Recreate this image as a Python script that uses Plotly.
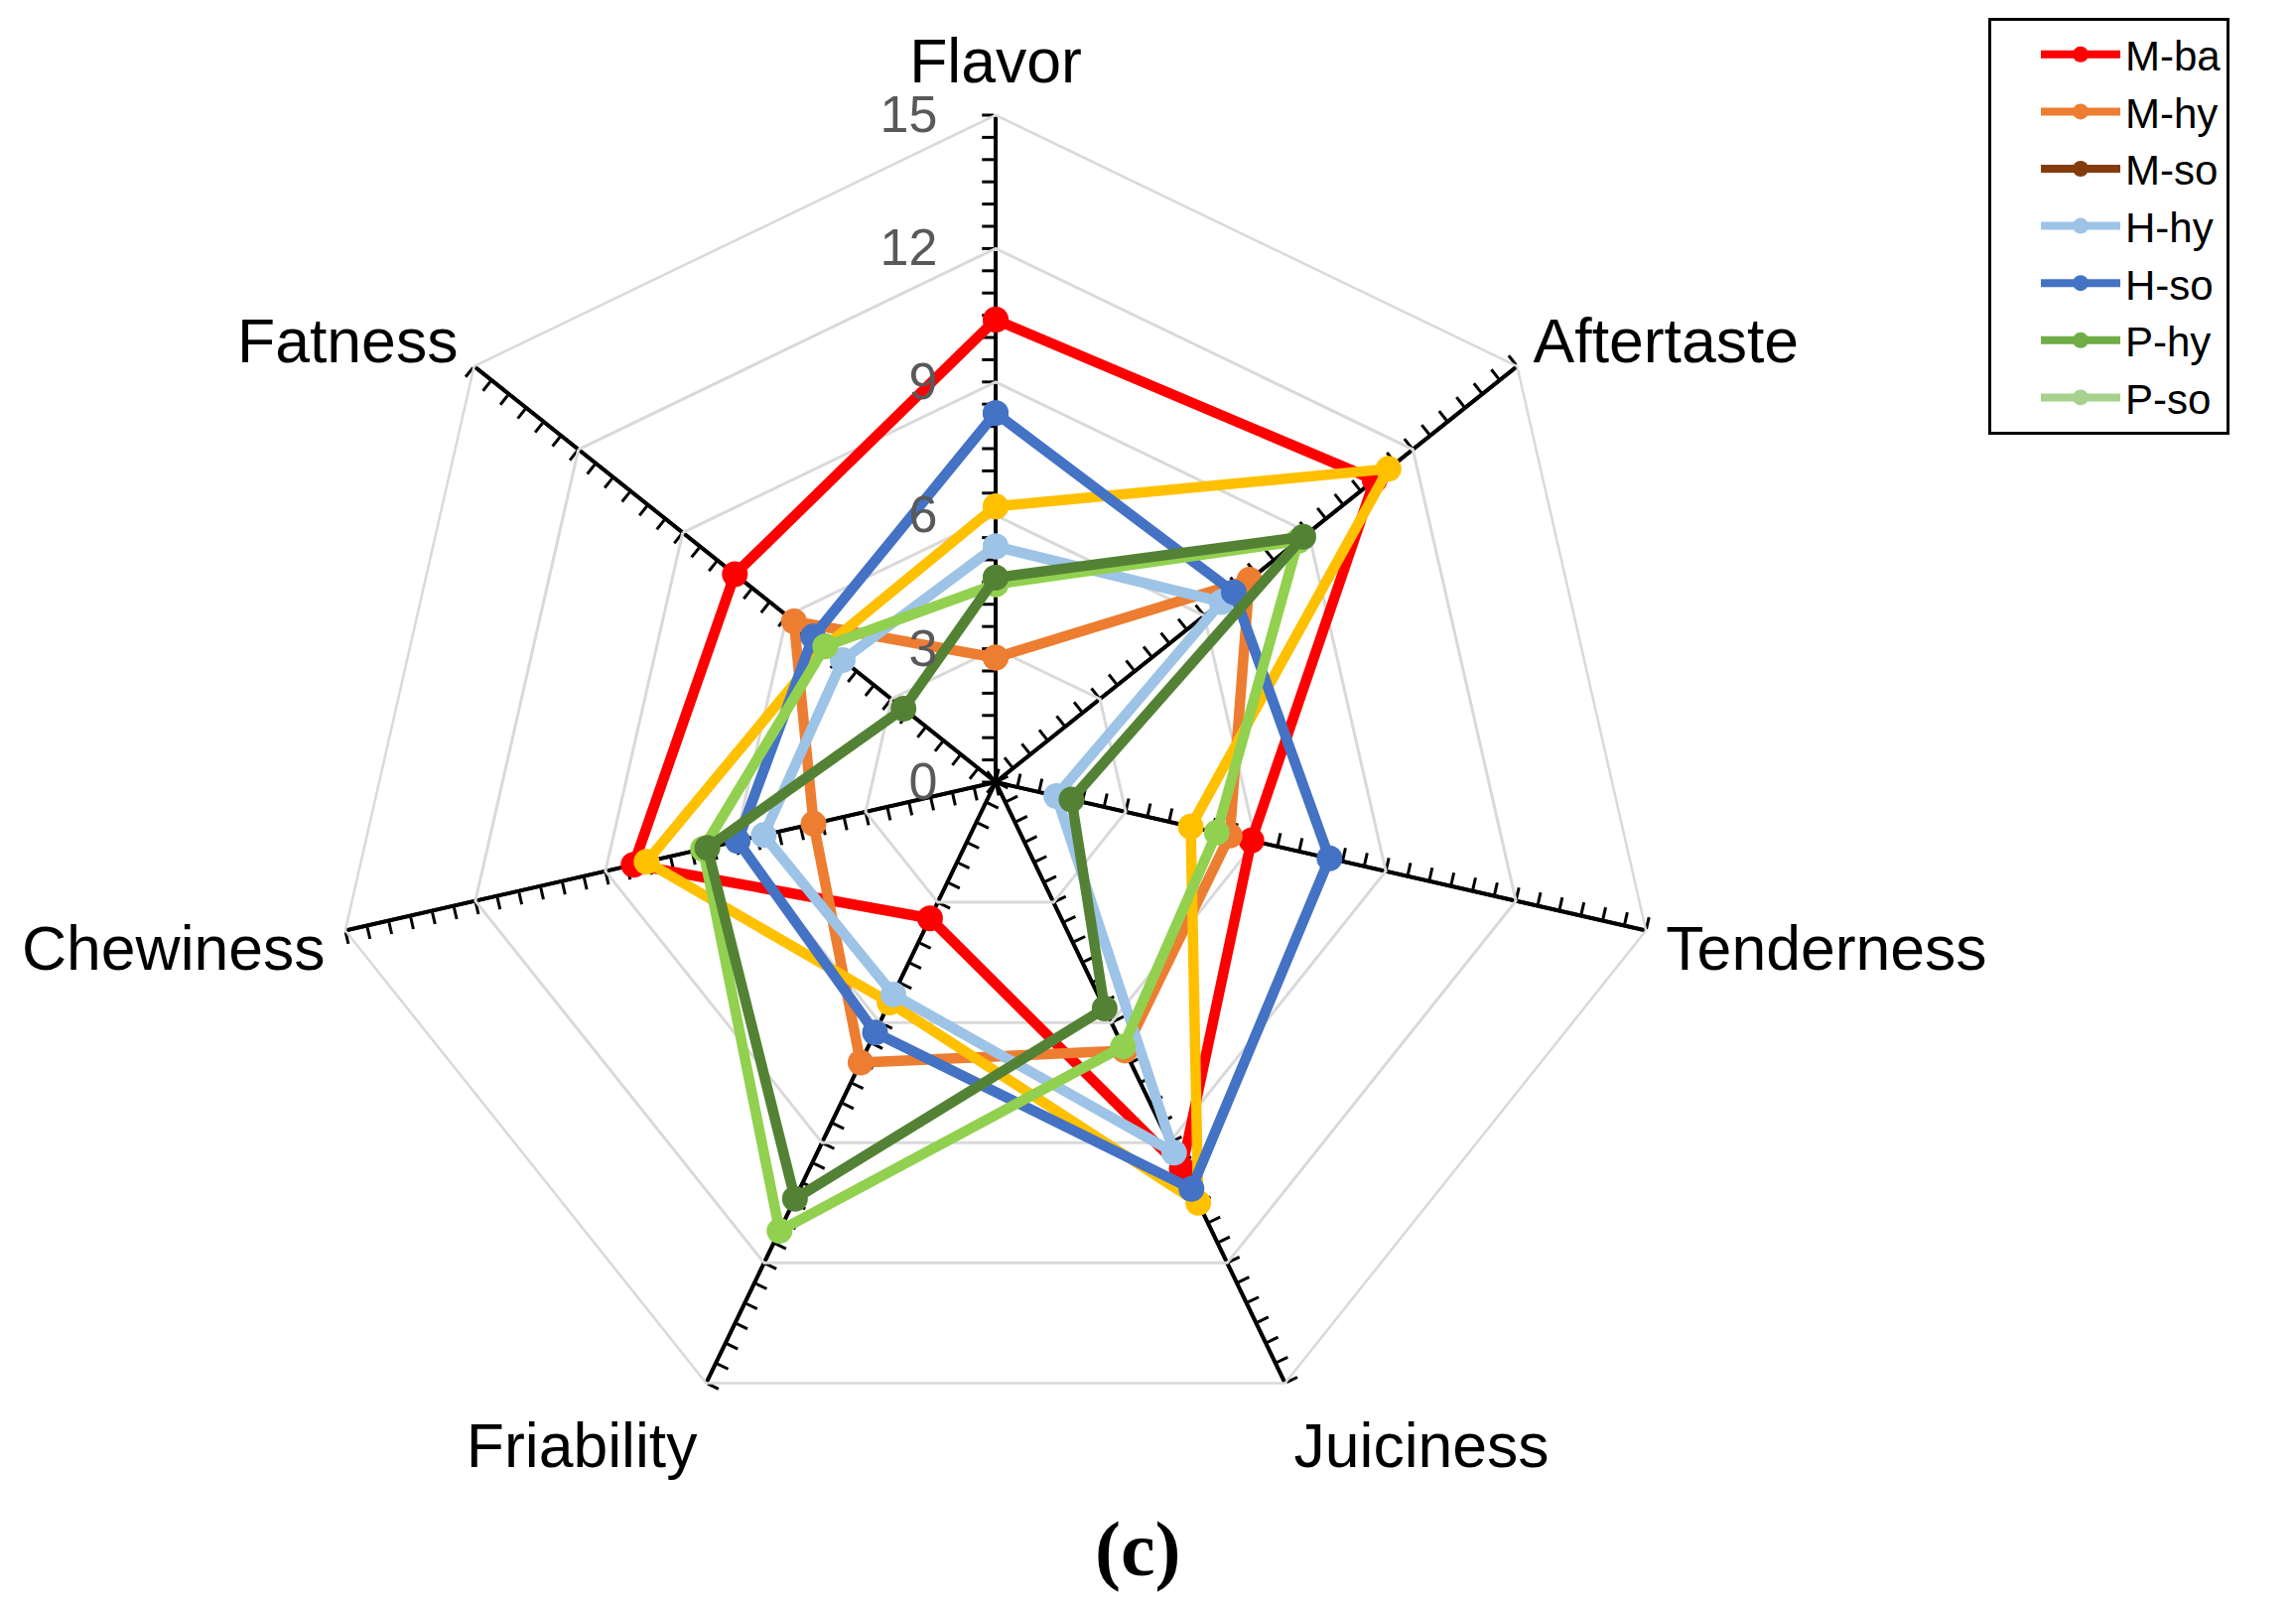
import plotly.graph_objects as go

# ---------------- data ----------------
categories = ["Flavor", "Aftertaste", "Tenderness", "Juiciness", "Friability", "Chewiness", "Fatness"]
series_names = ["M-ba", "M-hy", "M-so", "H-hy", "H-so", "P-hy", "P-so"]
m_ba = [10.4, 10.9, 5.9, 9.65, 3.4, 8.35, 7.5]
m_hy = [2.8, 7.3, 5.4, 6.7, 7.0, 4.2, 5.8]
m_so = [6.2, 11.3, 4.5, 10.5, 5.5, 8.05, 4.9]
h_hy = [5.3, 6.5, 1.4, 9.25, 5.3, 5.35, 4.4]
h_so = [8.3, 6.85, 7.7, 10.15, 6.25, 5.95, 5.25]
p_hy = [4.6, 8.85, 1.75, 5.65, 10.4, 6.65, 2.65]
p_so = [4.45, 8.7, 5.1, 6.6, 11.2, 6.75, 4.9]
radial_ticks = [0, 3, 6, 9, 12, 15]
r_max = 15
minor_step = 0.5

series_values = [m_ba, m_hy, m_so, h_hy, h_so, p_hy, p_so]

# ---------------- styles ----------------
line_colors = ["#FF0000", "#ED7D31", "#FFC000", "#9DC3E6", "#4472C4", "#548235", "#92D050"]
legend_colors = ["#FF0000", "#ED7D31", "#843C0C", "#9DC3E6", "#4472C4", "#70AD47", "#A9D18E"]
draw_order = [0, 1, 2, 3, 4, 6, 5]

W, H = 2313, 1615
cx, cy, R = 995, 780, 672
dom = dict(x=[(cx - R) / W, (cx + R) / W], y=[1 - (cy + R) / H, 1 - (cy - R) / H])

fig = go.Figure()
layout = {}

n = len(categories)
for k in range(n):
    name = "polar" if k == 0 else f"polar{k + 1}"
    layout[name] = dict(
        domain=dom,
        bgcolor="rgba(0,0,0,0)",
        angularaxis=dict(visible=False, rotation=90, direction="clockwise"),
        radialaxis=dict(
            range=[0, r_max], angle=90 - k * 360 / n, side="counterclockwise",
            showgrid=False, showline=True, linecolor="black", linewidth=3.5,
            ticks="outside", tick0=0, dtick=minor_step, ticklen=12, tickwidth=3,
            tickcolor="black", showticklabels=False,
        ),
    )
    fig.add_trace(go.Scatterpolar(r=[None], theta=[None], subplot=name, mode="lines",
                                  showlegend=False, hoverinfo="skip"))

main = f"polar{n + 1}"
layout[main] = dict(
    domain=dom,
    bgcolor="rgba(0,0,0,0)",
    gridshape="linear",
    angularaxis=dict(
        type="category", categoryorder="array", categoryarray=categories,
        rotation=90, direction="clockwise",
        showline=True, linecolor="#D9D9D9", linewidth=2.5,
        showgrid=True, gridcolor="black", gridwidth=3.5,
        ticks="outside", ticklen=7, tickcolor="rgba(0,0,0,0)",
        tickfont=dict(family="Liberation Sans, Arial", size=62.5, color="black"),
    ),
    radialaxis=dict(
        range=[0, r_max], tickvals=radial_ticks, angle=90, side="counterclockwise",
        showline=False, showgrid=True, gridcolor="#D9D9D9", gridwidth=2.5,
        ticks="outside", ticklen=40, tickcolor="rgba(0,0,0,0)", tickangle=90,
        tickfont=dict(family="Liberation Sans, Arial", size=52, color="#595959"),
    ),
)

for i in draw_order:
    vals = series_values[i]
    fig.add_trace(go.Scatterpolar(
        r=vals + vals[:1], theta=categories + categories[:1], subplot=main,
        mode="lines+markers", name=series_names[i], showlegend=False,
        line=dict(color=line_colors[i], width=10.5),
        marker=dict(color=line_colors[i], size=26),
    ))

for i, nm in enumerate(series_names):
    fig.add_trace(go.Scatterpolar(
        r=[None], theta=[None], subplot=main, mode="lines+markers", name=nm,
        line=dict(color=legend_colors[i], width=8),
        marker=dict(color=legend_colors[i], size=20),
    ))

fig.update_layout(
    width=W, height=H,
    margin=dict(l=0, r=0, t=0, b=0),
    paper_bgcolor="white",
    font=dict(family="Liberation Sans, Arial", color="black"),
    legend=dict(
        x=1995 / W, y=1 - 10 / H, xanchor="left", yanchor="top",
        bordercolor="black", borderwidth=3, bgcolor="white",
        font=dict(size=42, family="Liberation Sans, Arial", color="black"),
        itemwidth=80, tracegroupgap=0, indentation=45,
    ),
    annotations=[dict(
        text="<b>(c)</b>", x=1138 / W, y=1 - 1552 / H, xref="paper", yref="paper",
        showarrow=False, xanchor="center", yanchor="middle",
        font=dict(family="Liberation Serif, Times New Roman", size=78, color="black"),
    )],
    **layout,
)

fig.write_html("out.html")
